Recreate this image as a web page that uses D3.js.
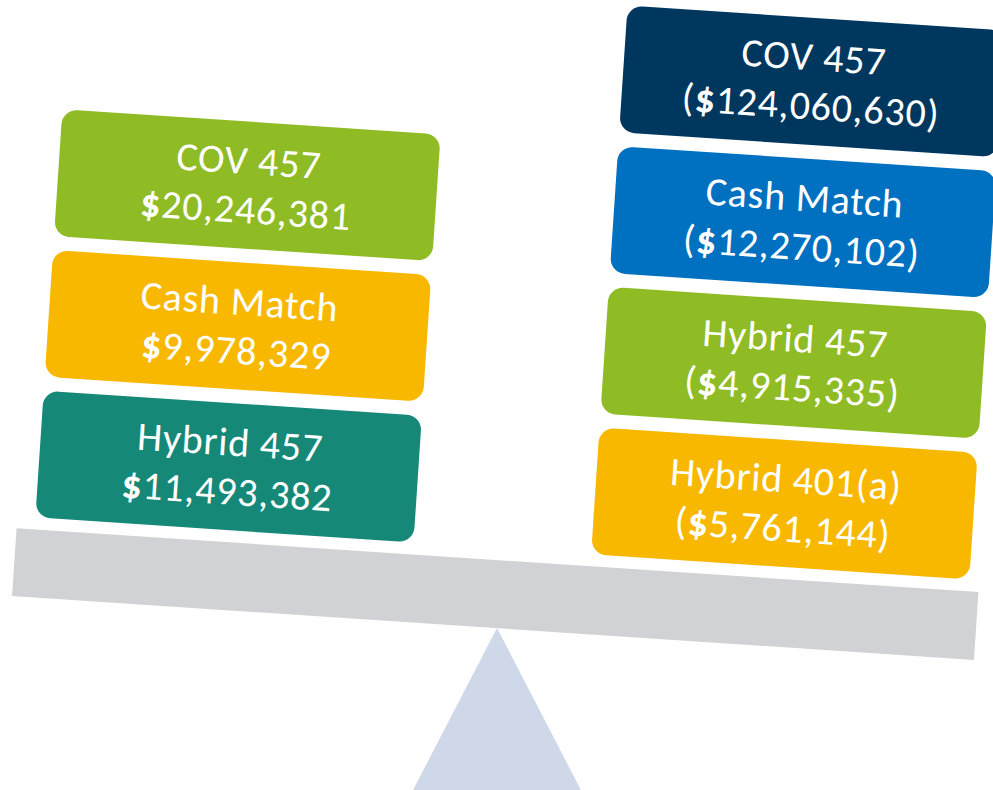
<!DOCTYPE html>
<html><head><meta charset="utf-8">
<script src="https://cdnjs.cloudflare.com/ajax/libs/d3/7.8.5/d3.min.js"></script>
<style>html,body{margin:0;padding:0;background:#fff;overflow:hidden}</style>
</head><body>
<svg id="chart" width="993" height="790"></svg>
<script>
// Data
const leftLabels = ["COV 457", "Cash Match", "Hybrid 457"];
const leftValues = [20246381, 9978329, 11493382];
const leftColors = ["#8fbb24", "#f9b800", "#158877"];
const rightLabels = ["COV 457", "Cash Match", "Hybrid 457", "Hybrid 401(a)"];
const rightValues = [124060630, 12270102, 4915335, 5761144];
const rightColors = ["#00375f", "#0070c0", "#8fbb24", "#f9b800"];

const svg = d3.select("#chart");
const W = 993, H = 790;
const pivot = [494, 628];
const angle = 3.8;
const fmt = d3.format(",");

// fulcrum triangle (not rotated)
svg.append("path")
  .attr("d", d3.line()([[pivot[0] + 3, pivot[1]], [pivot[0] + 89, H + 4], [pivot[0] - 83, H + 4]]) + "Z")
  .attr("fill", "#cfd8e8");

const g = svg.append("g").attr("transform", `translate(${pivot[0]},${pivot[1]}) rotate(${angle})`);

// beam
const beamX = d3.scaleLinear().domain([-1, 1]).range([-483, 481]);
g.append("rect").attr("x", beamX(-1)).attr("y", -68).attr("width", beamX(1) - beamX(-1)).attr("height", 68)
  .attr("fill", "#d0d2d6");

const step = 141, boxBottom = -80, gap = 14;
function stack(labels, values, colors, x0, x1, paren) {
  const n = labels.length;
  const y = d3.scaleBand().domain(d3.range(n))
    .range([boxBottom - n * step + gap, boxBottom]).paddingInner(gap / step).paddingOuter(0);
  const grp = g.append("g");
  const cell = grp.selectAll("g").data(d3.range(n)).join("g");
  cell.append("rect")
    .attr("x", x0).attr("width", x1 - x0)
    .attr("y", i => y(i)).attr("height", y.bandwidth())
    .attr("rx", 15).attr("ry", 15)
    .attr("fill", i => colors[i]);
  const cx = (x0 + x1) / 2;
  const t = cell.append("text")
    .attr("x", cx).attr("text-anchor", "middle")
    .attr("font-family", "Calibri, Carlito, Lato, 'Open Sans', sans-serif")
    .attr("font-size", 40).attr("letter-spacing", 0.8).attr("fill", "#fff");
  t.append("tspan").attr("x", cx).attr("y", i => y(i) + y.bandwidth() / 2 - 11).text(i => labels[i]);
  const l2 = t.append("tspan").attr("x", cx).attr("y", i => y(i) + y.bandwidth() / 2 + 38);
  if (paren) l2.append("tspan").text("(");
  l2.append("tspan").attr("font-weight", "bold").text("$");
  l2.append("tspan").text(i => fmt(values[i]) + (paren ? ")" : ""));
}
stack(leftLabels, leftValues, leftColors, -465, -86, false);
stack(rightLabels, rightValues, rightColors, 92, 471, true);
</script>
</body></html>
